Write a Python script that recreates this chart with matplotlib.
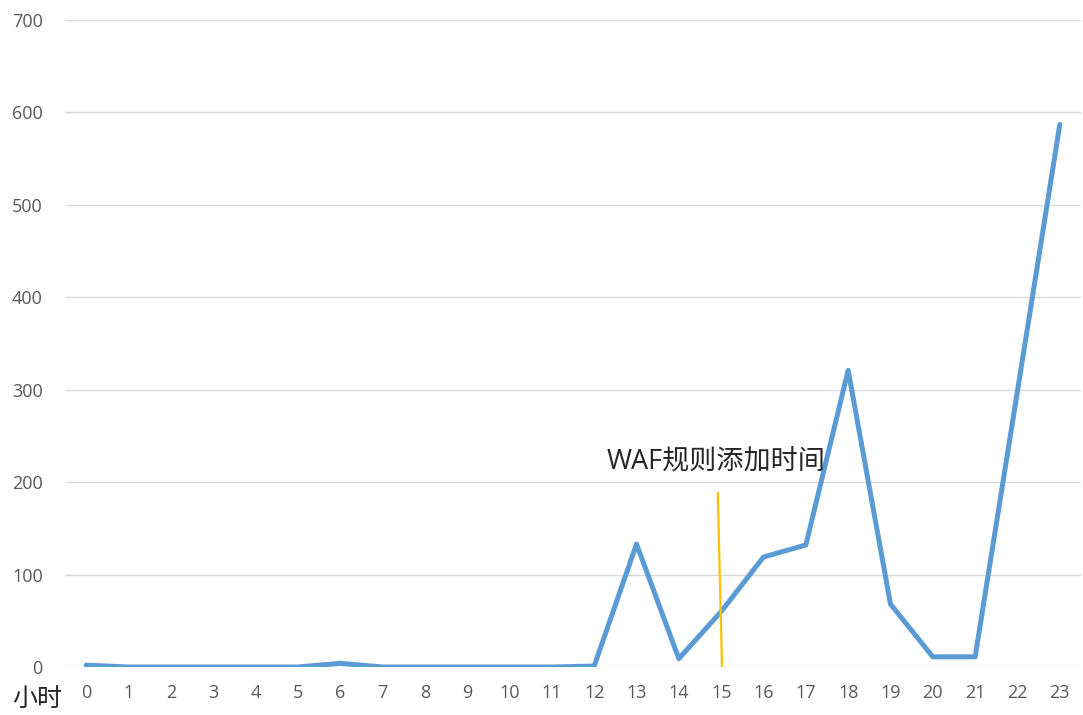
import matplotlib.pyplot as plt

plt.rcParams['font.family'] = ['Open Sans', 'Noto Sans CJK SC', 'DejaVu Sans']

# 每小时请求数
hours = list(range(24))
counts = [2, 0, 0, 0, 0, 0, 4, 0, 0, 0, 0, 0, 1, 133, 9, 60,
          119, 132, 321, 68, 11, 11, 299, 587]

# WAF规则添加时刻的标记线
waf_x = [14.92, 15.02]
waf_y = [188, 0]
waf_label = "WAF规则添加时间"

fig = plt.figure(figsize=(10.83, 7.15), dpi=100)
ax = fig.add_axes([65 / 1083, 48 / 715, 1016 / 1083, 647 / 715])

ax.plot(hours, counts, color='#5B9BD5', linewidth=3.6, solid_joinstyle='round',
        solid_capstyle='round', zorder=3)
ax.plot(waf_x, waf_y, color='#FFC000', linewidth=1.6, zorder=4)
ax.text(12.3, 221, waf_label, fontsize=19.5, color='#262626', va='center', ha='left')

ax.set_xlim(-0.5, 23.5)
ax.set_ylim(0, 700)
ax.set_xticks(hours)
ax.set_yticks(range(0, 701, 100))
ax.grid(axis='y', color='#D9D9D9', linewidth=1)
ax.set_axisbelow(True)
for s in ax.spines.values():
    s.set_visible(False)
ax.tick_params(axis='both', length=0, labelsize=13, labelcolor='#595959')
ax.tick_params(axis='y', pad=16)
ax.tick_params(axis='x', pad=12)

fig.text(37 / 1083, 1 - 700 / 715, "小时", fontsize=18, color='#262626',
         ha='center', va='center')

fig.savefig('out.png', dpi=100)
